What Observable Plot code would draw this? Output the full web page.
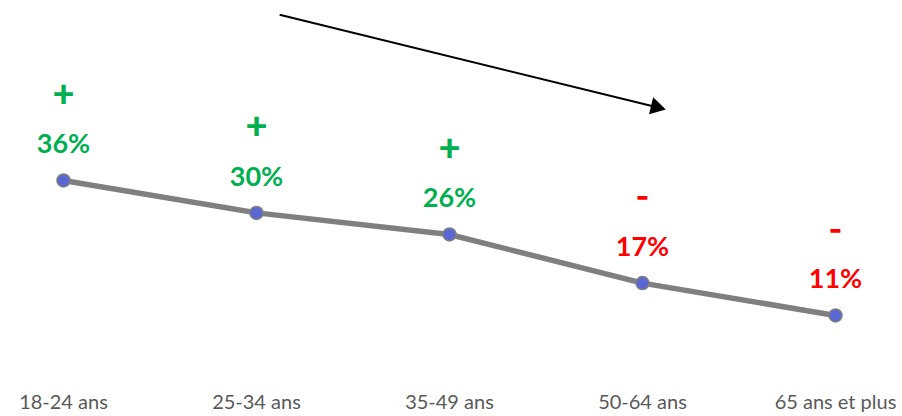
<!DOCTYPE html>
<html><head><meta charset="utf-8">
<script src="https://cdn.jsdelivr.net/npm/d3@7"></script>
<script src="https://cdn.jsdelivr.net/npm/@observablehq/plot@0.6"></script>
<style>
body{margin:0;background:#fff;}
#chart svg{display:block;}
</style>
</head><body><div id="chart"></div>
<script>
const categories = ["18-24 ans","25-34 ans","35-49 ans","50-64 ans","65 ans et plus"];
const values = [36, 30, 26, 17, 11];
const signs = ["+","+","+","-","-"];
const trendFrom = {i: 1.12, v: 66.7};
const trendTo = {i: 3.07, v: 49.6};

const data = categories.map((c, i) => ({i, c, v: values[i], s: signs[i], pos: signs[i] === "+"}));
const colorOf = d => d.pos ? "#00B050" : "#FF0000";
const font = "Lato, 'Liberation Sans', sans-serif";

const angle = Math.atan2(
  (trendFrom.v - trendTo.v) * 5.4,
  (trendTo.i - trendFrom.i) * 193
) * 180 / Math.PI;

const chart = Plot.plot({
  width: 902,
  height: 416,
  marginLeft: 63,
  marginRight: 67,
  marginBottom: 22,
  marginTop: 0,
  style: {fontFamily: font, background: "#fff"},
  x: {domain: [0, 4], label: null},
  y: {domain: [0, 69.33], range: [374.4, 0], axis: null},
  marks: [
    Plot.axisX({ticks: [0,1,2,3,4], tickFormat: i => categories[i], tickSize: 0, tickPadding: 0, fontSize: 20, fill: "#595959", label: null}),
    Plot.link([0], {x1: () => trendFrom.i, y1: () => trendFrom.v, x2: () => trendTo.i, y2: () => trendTo.v, stroke: "black", strokeWidth: 2}),
    Plot.dot([0], {x: () => trendTo.i, y: () => trendTo.v, symbol: "triangle", r: 6.5, fill: "black", stroke: "none", rotate: 90 + angle}),
    Plot.line(data, {x: "i", y: "v", stroke: "#7F7F7F", strokeWidth: 5.5}),
    Plot.dot(data, {x: "i", y: "v", r: 6.5, fill: "#5B67D2", stroke: "#7F7F7F", strokeWidth: 1.5}),
    Plot.text(data, {x: "i", y: "v", text: d => d.v + "%", dy: -36, fill: colorOf, fontSize: 27, fontWeight: "bold", lineAnchor: "middle"}),
    Plot.text(data.filter(d => d.pos), {x: "i", y: "v", text: "s", dy: -86, fill: colorOf, fontSize: 38, fontWeight: 900, lineAnchor: "middle"}),
    Plot.text(data.filter(d => !d.pos), {x: "i", y: "v", text: () => "\u2012", dy: -85, fill: colorOf, fontSize: 22, fontWeight: 900, lineAnchor: "middle", stroke: colorOf, strokeWidth: 1.5})
  ]
});
document.getElementById("chart").append(chart);
</script>
</body></html>
